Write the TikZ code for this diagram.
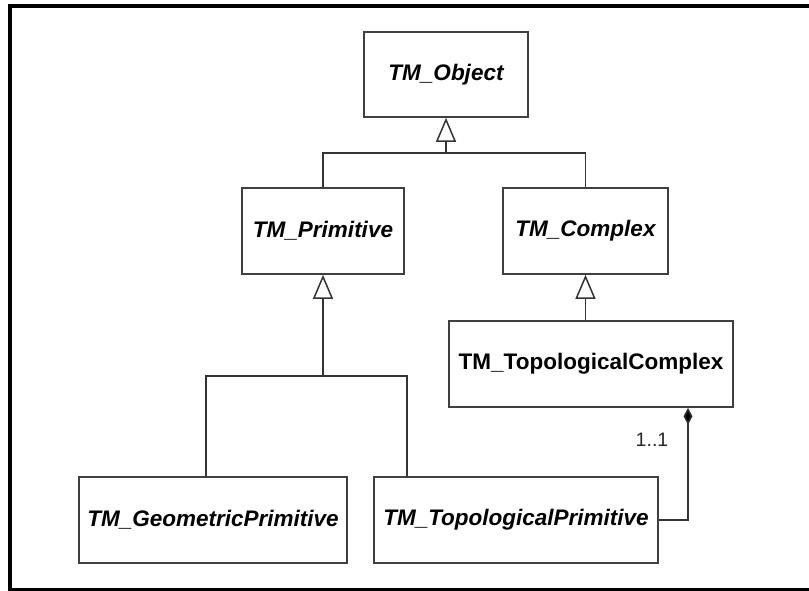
\documentclass[tikz,border=0pt]{standalone}
\usepackage{fontspec}
\setmainfont{Liberation Sans}
\usetikzlibrary{arrows.meta}
\tikzset{
  cls/.style={draw=black!75, line width=1.6pt, fill=white, inner sep=0pt,
    font=\fontsize{22.5}{27}\selectfont\bfseries\itshape, text=black},
  clsup/.style={cls, font=\fontsize{22.5}{27}\selectfont\bfseries},
  conn/.style={draw=black!80, line width=1.5pt},
  gen/.style={conn, -{Triangle[width=20pt,length=24pt,fill=white,line width=1.5pt]}},
  comp/.style={conn, {Diamond[width=9pt,length=17pt,fill=black]}-},
  mult/.style={font=\fontsize{19.5}{23}\selectfont, text=black!85},
  frame/.style={draw=black, line width=4pt}
}
\begin{document}
\begin{tikzpicture}[x=1pt,y=-1pt]
\useasboundingbox (0,0) rectangle (809,591);
\begin{scope}
  \clip (0,0) rectangle (809,591);
  \draw[frame] (10,6) rectangle (830,590);
\end{scope}
% classes
\node[cls, minimum width=164pt, minimum height=85pt] (obj) at (446,74.5) {TM\_Object};
\node[cls, minimum width=162pt, minimum height=86pt] (prim) at (323,231) {TM\_Primitive};
\node[cls, minimum width=165pt, minimum height=86pt] (cplx) at (585.5,231) {TM\_Complex};
\node[clsup, minimum width=284pt, minimum height=86pt] (topcx) at (591,364) {TM\_TopologicalComplex};
\node[cls, minimum width=268pt, minimum height=86pt] (geo) at (213,520) {TM\_GeometricPrimitive};
\node[cls, minimum width=284pt, minimum height=86pt] (topp) at (516,520) {TM\_TopologicalPrimitive};
% junctions
\coordinate (j1) at (446,153);
\coordinate (j2) at (323,376);
\coordinate (dcol) at (688,519);
% generalization: Primitive, Complex -> Object
\draw[conn] (prim.north) |- (j1) -| (cplx.north);
\draw[gen] (j1) -- (obj.south);
% generalization: Geometric, Topological -> Primitive
\draw[conn] (geo.north -| 206,0) |- (j2) -| (topp.north -| 407,0);
\draw[gen] (j2) -- (prim.south);
% generalization: TopologicalComplex -> Complex
\draw[gen] (topcx.north -| cplx.south) -- (cplx.south);
% composition
\draw[comp] (topcx.south -| dcol) |- (topp.east);
\node[mult] (m) at (652,440) {1..1};
\end{tikzpicture}
\end{document}
